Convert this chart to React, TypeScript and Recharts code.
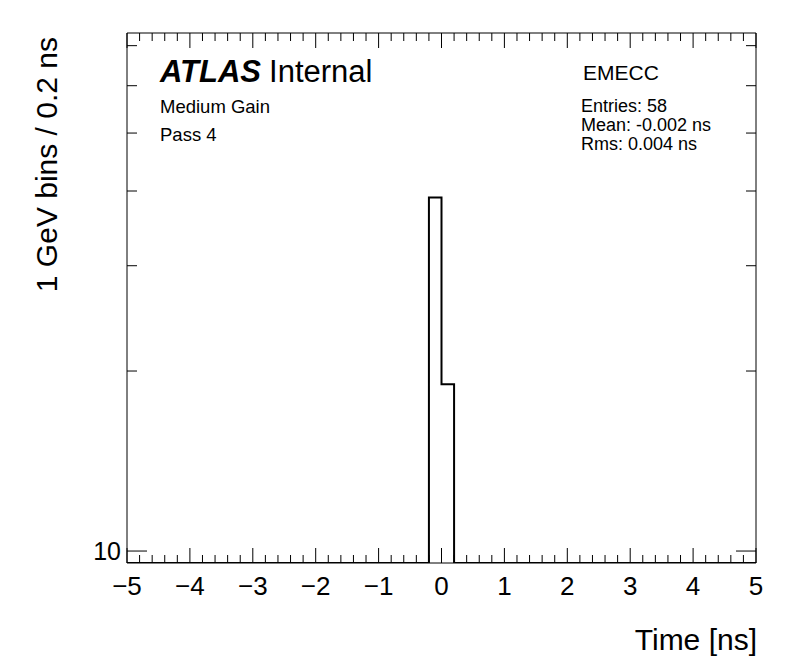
import React from 'react'
import { ComposedChart, Line, XAxis, YAxis } from 'recharts'

// histogram bins with content (all other bins in [-5, 5] are empty)
const binLow = [-0.2, 0.0]
const binCounts = [39, 19]
const BIN_WIDTH = 0.2

const X_RANGE: [number, number] = [-5, 5]
const Y_RANGE: [number, number] = [9.55, 73.5]

const xMajorTicks = [-5, -4, -3, -2, -1, 0, 1, 2, 3, 4, 5]
const xTickLabels = ['\u22125', '\u22124', '\u22123', '\u22122', '\u22121', '0', '1', '2', '3', '4', '5']
const yTicks = [10, 20, 30, 40, 50, 60, 70]
const yTickLabels: Record<number, string> = { 10: '10' }

const statsLines = ['Entries: 58', 'Mean: -0.002 ns', 'Rms: 0.004 ns']
const infoLines = ['Medium Gain', 'Pass 4']

const FONT = '"Liberation Sans", Arial, Helvetica, sans-serif'

// minor ticks every 0.2
const xTicks = Array.from({ length: 51 }, (_, i) => Math.round((X_RANGE[0] + i * 0.2) * 10) / 10)
const isMajor = (v: number) => Math.abs(v - Math.round(v)) < 1e-6

// step outline of the histogram, empty bins sit on the axis floor
const outline: { t: number; n: number }[] = [{ t: X_RANGE[0], n: Y_RANGE[0] }]
binLow.forEach((lo, i) => {
    const prev = i > 0 ? binCounts[i - 1] : Y_RANGE[0]
    outline.push({ t: lo, n: prev })
    outline.push({ t: lo, n: binCounts[i] })
    outline.push({ t: lo + BIN_WIDTH, n: binCounts[i] })
})
outline.push({ t: binLow[binLow.length - 1] + BIN_WIDTH, n: Y_RANGE[0] })
outline.push({ t: X_RANGE[1], n: Y_RANGE[0] })

const BottomTick = (props: any) => {
    const { x, y, payload } = props
    const v = payload.value
    const major = isMajor(v)
    const idx = xMajorTicks.findIndex((m) => Math.abs(m - v) < 1e-6)
    return (
        <g>
            <line x1={x} x2={x} y1={y} y2={y - (major ? 15 : 8)} stroke={'#000'} />
            {major && (
                <text x={x} y={y + 32} textAnchor={'middle'} fontSize={26} fontFamily={FONT} fill={'#000'}>
                    {xTickLabels[idx]}
                </text>
            )}
        </g>
    )
}

const TopTick = (props: any) => {
    const { x, y, payload } = props
    const major = isMajor(payload.value)
    return <line x1={x} x2={x} y1={y} y2={y + (major ? 15 : 8)} stroke={'#000'} />
}

const LeftTick = (props: any) => {
    const { x, y, payload } = props
    const label = yTickLabels[payload.value]
    return (
        <g>
            <line x1={x} x2={x + (label ? 20 : 10)} y1={y} y2={y} stroke={'#000'} />
            {label && (
                <text x={x - 6} y={y + 9} textAnchor={'end'} fontSize={25} fontFamily={FONT} fill={'#000'}>
                    {label}
                </text>
            )}
        </g>
    )
}

const RightTick = (props: any) => {
    const { x, y, payload } = props
    const major = yTickLabels[payload.value] !== undefined
    return <line x1={x} x2={x - (major ? 20 : 10)} y1={y} y2={y} stroke={'#000'} />
}

const App: React.FC = () => (
    <div style={{ position: 'absolute', left: 0, top: 0, width: 796, height: 672, background: '#fff' }}>
        <ComposedChart
            width={796}
            height={672}
            data={outline}
            margin={{ top: 0, right: 0, bottom: 0, left: 0 }}
        >
            <XAxis
                xAxisId={'bottom'}
                dataKey={'t'}
                type={'number'}
                domain={X_RANGE}
                allowDataOverflow={true}
                ticks={xTicks}
                interval={0}
                height={109}
                tickSize={0}
                tickMargin={0}
                tickLine={false}
                axisLine={{ stroke: '#000', strokeWidth: 1 }}
                tick={<BottomTick />}
            />
            <XAxis
                xAxisId={'top'}
                orientation={'top'}
                dataKey={'t'}
                type={'number'}
                domain={X_RANGE}
                allowDataOverflow={true}
                ticks={xTicks}
                interval={0}
                height={33}
                tickSize={0}
                tickMargin={0}
                tickLine={false}
                axisLine={{ stroke: '#000', strokeWidth: 1 }}
                tick={<TopTick />}
            />
            <YAxis
                yAxisId={'left'}
                type={'number'}
                scale={'log'}
                domain={Y_RANGE}
                allowDataOverflow={true}
                ticks={yTicks}
                interval={0}
                width={127}
                tickSize={0}
                tickMargin={0}
                tickLine={false}
                axisLine={{ stroke: '#000', strokeWidth: 1 }}
                tick={<LeftTick />}
            />
            <YAxis
                yAxisId={'right'}
                orientation={'right'}
                type={'number'}
                scale={'log'}
                domain={Y_RANGE}
                allowDataOverflow={true}
                ticks={yTicks}
                interval={0}
                width={40}
                tickSize={0}
                tickMargin={0}
                tickLine={false}
                axisLine={{ stroke: '#000', strokeWidth: 1 }}
                tick={<RightTick />}
            />
            <Line
                xAxisId={'bottom'}
                yAxisId={'left'}
                type={'linear'}
                dataKey={'n'}
                stroke={'#000'}
                strokeWidth={2}
                dot={false}
                activeDot={false}
                isAnimationActive={false}
            />
        </ComposedChart>
        <svg
            width={796}
            height={672}
            style={{ position: 'absolute', left: 0, top: 0, pointerEvents: 'none' }}
            fontFamily={FONT}
        >
            <text x={160} y={82} fontSize={31} fill={'#000'}>
                <tspan fontWeight={'bold'} fontStyle={'italic'}>ATLAS</tspan>
                <tspan dx={8}>Internal</tspan>
            </text>
            {infoLines.map((s, i) => (
                <text key={s} x={160} y={113 + i * 28} fontSize={18.5} fill={'#000'}>
                    {s}
                </text>
            ))}
            <text x={583} y={80} fontSize={21} fill={'#000'}>
                EMECC
            </text>
            {statsLines.map((s, i) => (
                <text key={s} x={581} y={112 + i * 19} fontSize={18} fill={'#000'}>
                    {s}
                </text>
            ))}
            <text x={757} y={650} textAnchor={'end'} fontSize={30} fill={'#000'}>
                Time [ns]
            </text>
            <text
                x={0}
                y={0}
                transform={'translate(57, 37) rotate(-90)'}
                textAnchor={'end'}
                fontSize={30}
                fill={'#000'}
            >
                1 GeV bins / 0.2 ns
            </text>
        </svg>
    </div>
)

export default App
